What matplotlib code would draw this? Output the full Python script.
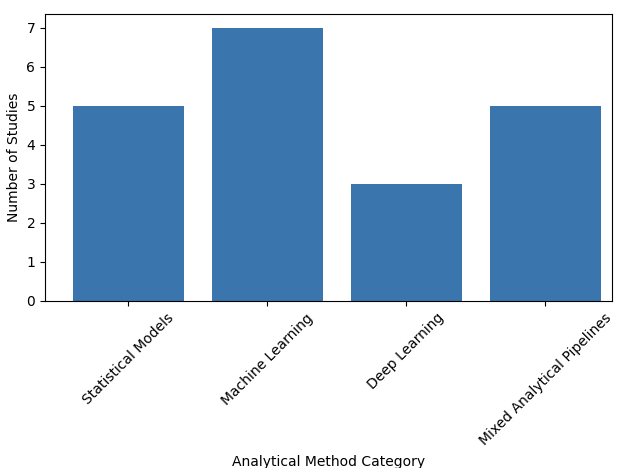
import matplotlib
matplotlib.use("Agg")
import matplotlib.pyplot as plt

categories = ["Statistical Models", "Machine Learning", "Deep Learning", "Mixed Analytical Pipelines"]
counts = [5, 7, 3, 5]

fig = plt.figure(figsize=(6.24, 4.68), dpi=100)
ax = fig.add_axes([45/624, 1 - 301/468, (612-45)/624, (301-14)/468])
ax.bar(categories, counts, color="#3a75ae")
ax.set_xlim(-0.6, 3.48)
ax.set_xlabel("Analytical Method Category", labelpad=5)
ax.set_ylabel("Number of Studies")
plt.setp(ax.get_xticklabels(), rotation=45)

fig.savefig("out.png", dpi=100)
